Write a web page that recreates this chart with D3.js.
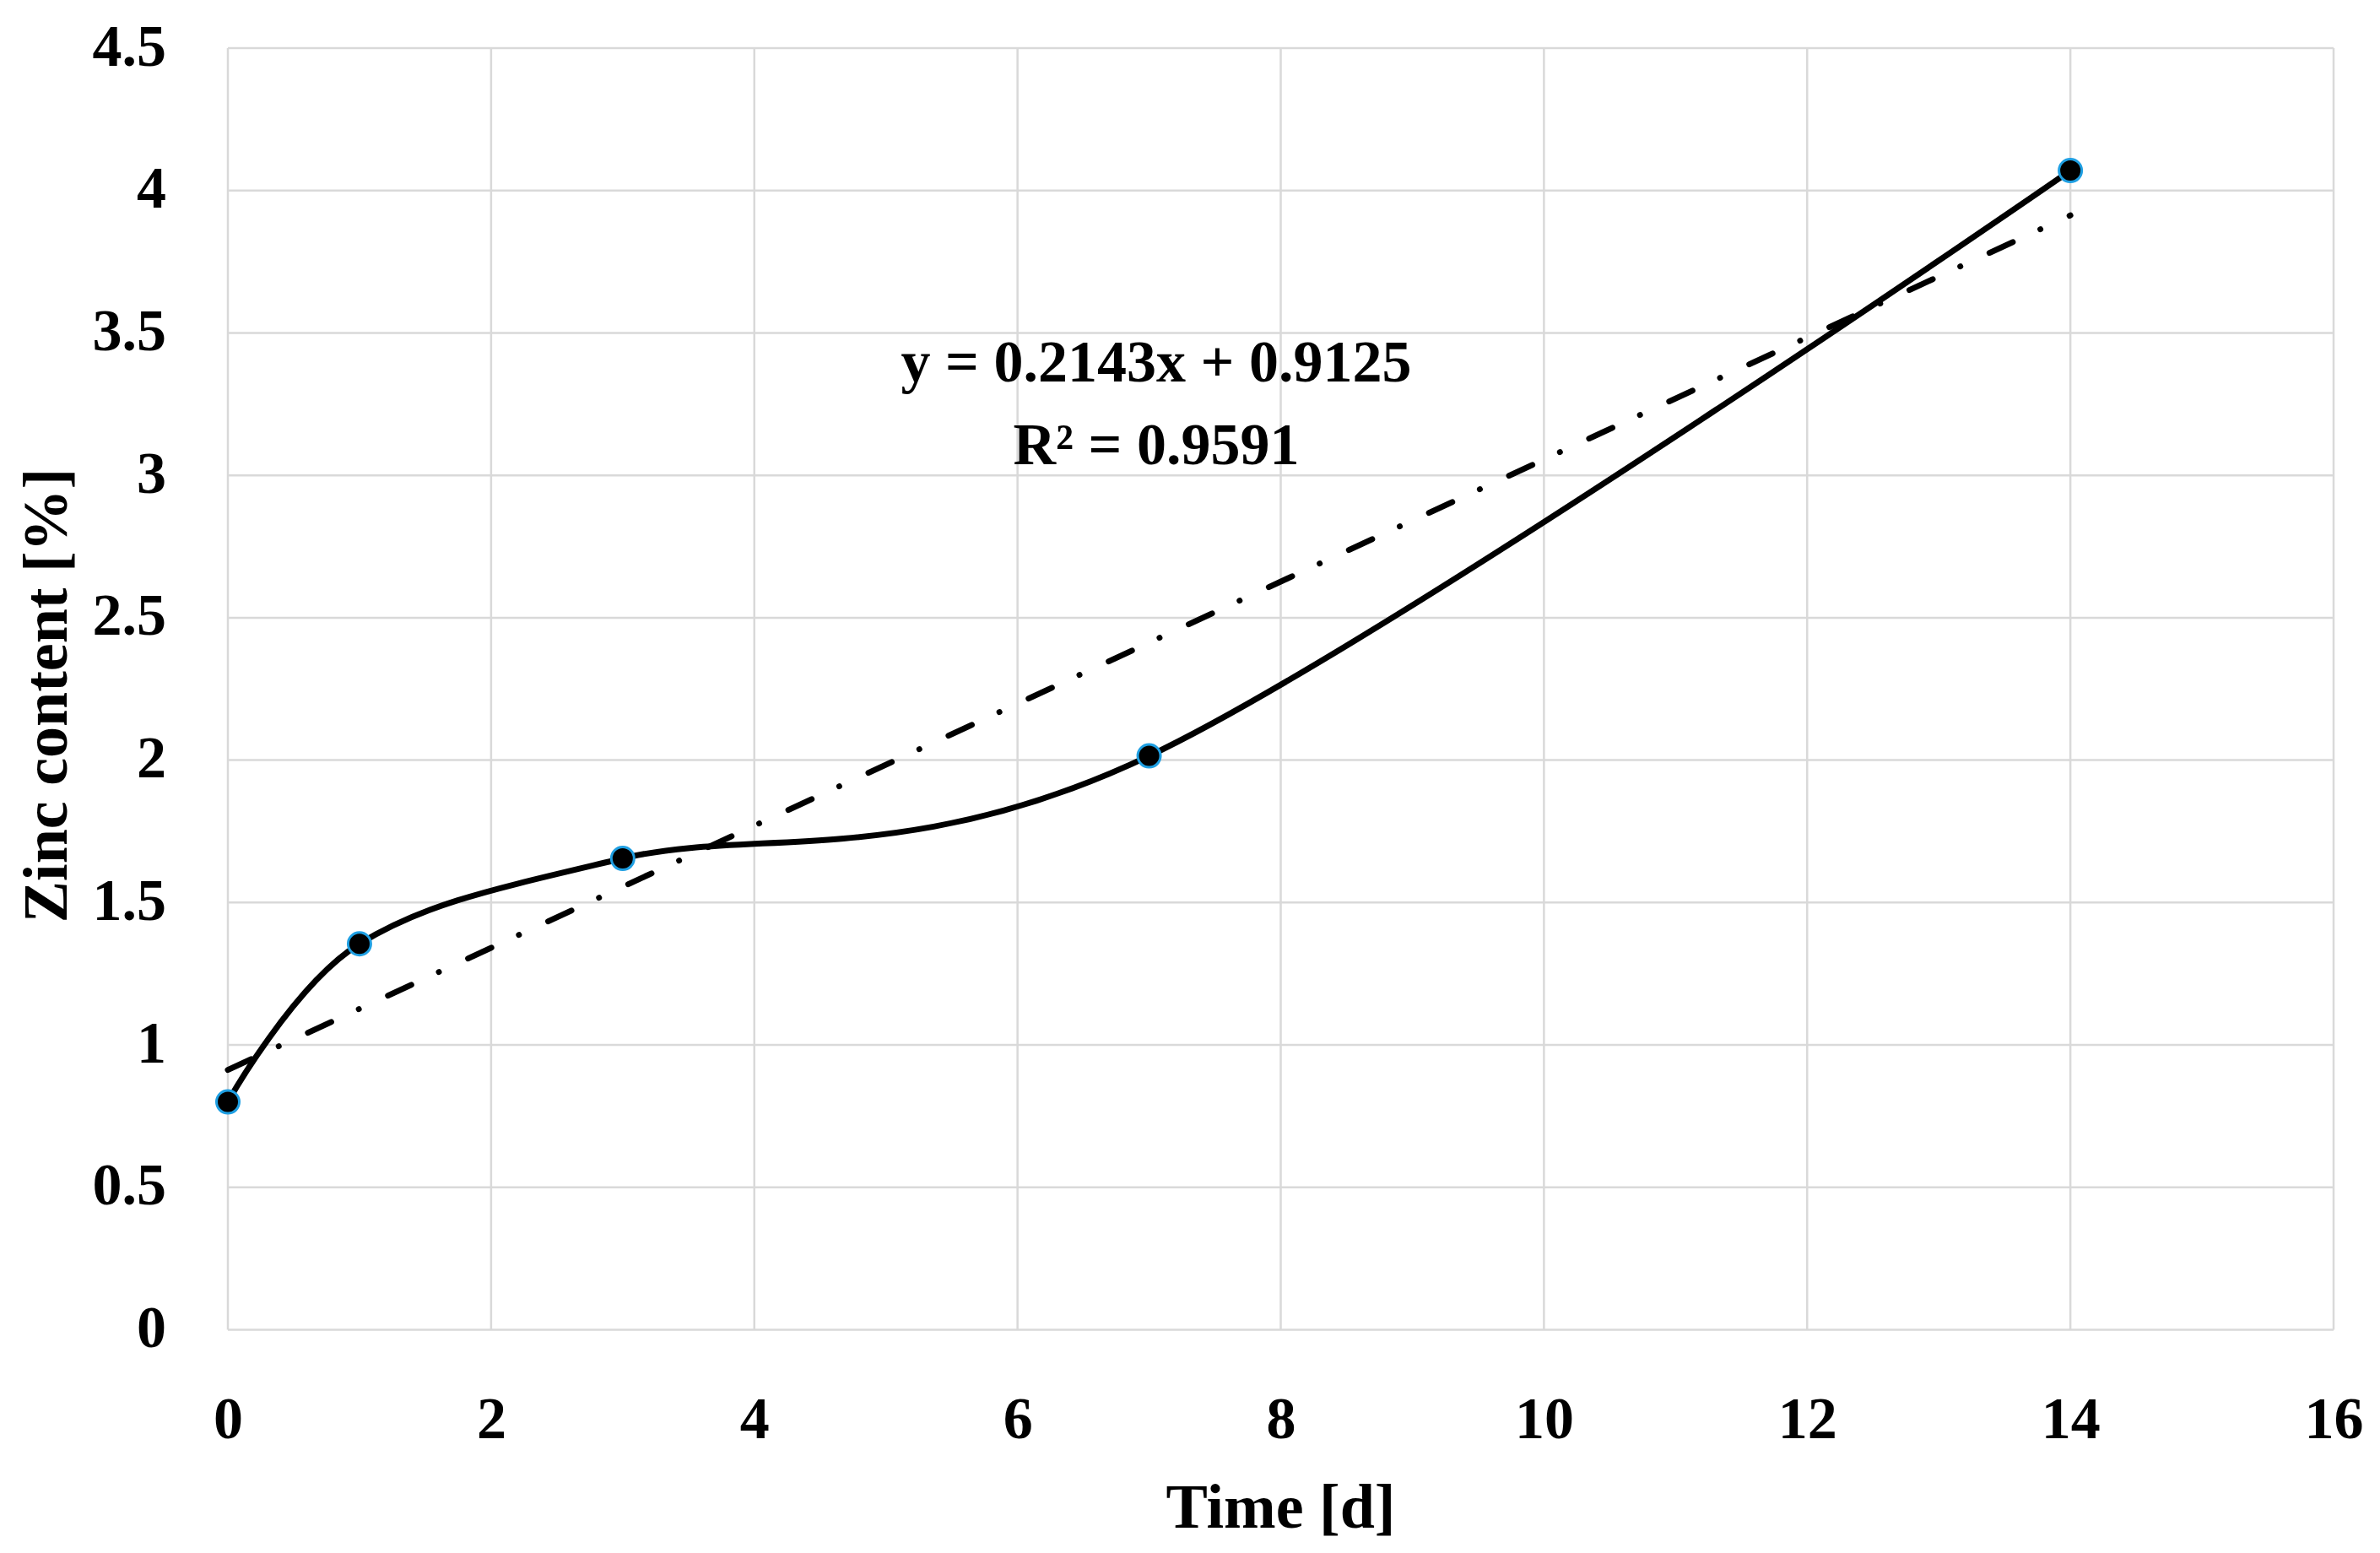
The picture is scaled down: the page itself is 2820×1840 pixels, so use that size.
<!DOCTYPE html>
<html>
<head>
<meta charset="utf-8">
<script src="https://cdn.jsdelivr.net/npm/d3@7"></script>
<style>
  html, body { margin: 0; padding: 0; background: #ffffff; }
  svg { display: block; }
  text { font-family: "Liberation Serif", "Times New Roman", serif; font-weight: bold; fill: #000; }
</style>
</head>
<body>
<script>
// ---- data ----
const timeDays = [0, 1, 3, 7, 14];
const zincContent = [0.80, 1.355, 1.655, 2.015, 4.07];
const xTicks = [0, 2, 4, 6, 8, 10, 12, 14, 16];
const yTicks = [0, 0.5, 1, 1.5, 2, 2.5, 3, 3.5, 4, 4.5];
const trendSlope = 0.2143;
const trendIntercept = 0.9125;
const trendRange = [0, 14];
const equationLines = ["y = 0.2143x + 0.9125", "R\u00B2 = 0.9591"];
const xTitle = "Time [d]";
const yTitle = "Zinc content [%]";

// ---- layout ----
const W = 2820, H = 1840;
const pLeft = 270, pRight = 2765, pTop = 57, pBottom = 1575.5;

const svg = d3.select("body").append("svg").attr("width", W).attr("height", H);

const x = d3.scaleLinear().domain([0, 16]).range([pLeft, pRight]);
const y = d3.scaleLinear().domain([0, 4.5]).range([pBottom, pTop]);

// gridlines
const grid = svg.append("g");
grid.selectAll("line.h").data(yTicks).join("line").attr("class", "h")
  .attr("x1", pLeft).attr("x2", pRight)
  .attr("y1", d => y(d)).attr("y2", d => y(d))
  .attr("stroke", "#d9d9d9").attr("stroke-width", 2.5);
grid.selectAll("line.v").data(xTicks).join("line").attr("class", "v")
  .attr("y1", pTop).attr("y2", pBottom)
  .attr("x1", d => x(d)).attr("x2", d => x(d))
  .attr("stroke", "#d9d9d9").attr("stroke-width", 2.5);

// axes (labels only)
const xAxis = d3.axisBottom(x).tickValues(xTicks).tickSize(0).tickPadding(0).tickFormat(d3.format("d"));
const gx = svg.append("g").attr("transform", `translate(0,${pBottom})`).call(xAxis);
gx.select(".domain").remove();
gx.selectAll("text").attr("dy", null).attr("y", 128)
  .attr("font-size", 70).attr("font-family", "'Liberation Serif', serif").attr("font-weight", "bold");

const yAxis = d3.axisLeft(y).tickValues(yTicks).tickSize(0).tickPadding(0).tickFormat(d => String(d));
const gy = svg.append("g").attr("transform", `translate(197,0)`).call(yAxis);
gy.select(".domain").remove();
gy.selectAll("text").attr("x", 0).attr("dy", null).attr("y", 20)
  .attr("font-size", 70).attr("font-family", "'Liberation Serif', serif").attr("font-weight", "bold")
  .attr("text-anchor", "end");

// smoothed data line
const pts = timeDays.map((t, i) => [t, zincContent[i]]);
const smooth = d3.line().x(d => x(d[0])).y(d => y(d[1])).curve(d3.curveCardinal.tension(0));
svg.append("path").datum(pts)
  .attr("d", smooth)
  .attr("fill", "none").attr("stroke", "#000").attr("stroke-width", 7)
  .attr("stroke-linecap", "round").attr("stroke-linejoin", "round");

// linear trendline (long dash - dot)
const trendPts = trendRange.map(t => [t, trendIntercept + trendSlope * t]);
const trendPath = svg.append("path").datum(trendPts)
  .attr("d", d3.line().x(d => x(d[0])).y(d => y(d[1])))
  .attr("fill", "none").attr("stroke", "#000").attr("stroke-width", 7)
  .attr("stroke-linecap", "round");
const tLen = trendPath.node().getTotalLength();
const period = (tLen - 1) / 23;
trendPath.attr("stroke-dasharray", [0.29 * period, 0.345 * period, 0.01, 0.365 * period - 0.01].join(","));

// markers
svg.append("g").selectAll("circle").data(pts).join("circle")
  .attr("cx", d => x(d[0])).attr("cy", d => y(d[1]))
  .attr("r", 13.5)
  .attr("fill", "#000").attr("stroke", "#1f9fe2").attr("stroke-width", 3);

// equation
const eq = svg.append("text").attr("text-anchor", "middle").attr("font-size", 70);
eq.selectAll("tspan").data(equationLines).join("tspan")
  .attr("x", 1370).attr("y", (d, i) => i === 0 ? 452 : 550).text(d => d);

// axis titles
svg.append("text").attr("x", (pLeft + pRight) / 2).attr("y", 1810)
  .attr("text-anchor", "middle").attr("font-size", 74).text(xTitle);
svg.append("text").attr("transform", "translate(79,824) rotate(-90)")
  .attr("text-anchor", "middle").attr("font-size", 74).text(yTitle);
</script>
</body>
</html>
